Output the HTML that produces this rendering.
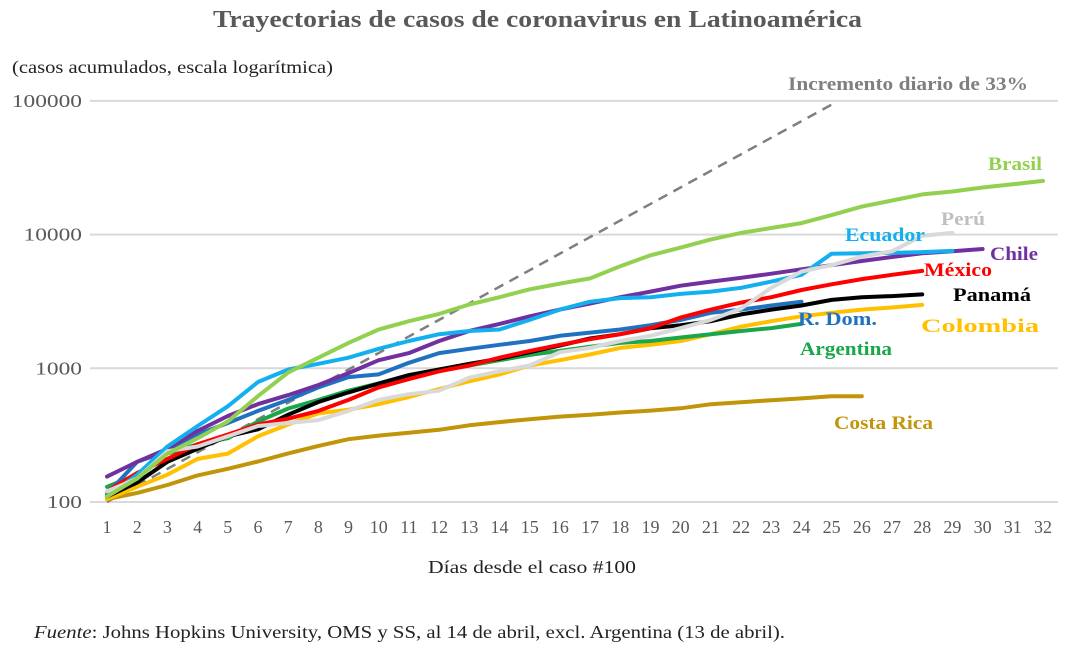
<!DOCTYPE html>
<html><head><meta charset="utf-8">
<style>
body{margin:0;background:#fff;}
svg{display:block;font-family:"Liberation Serif",serif;}
</style></head>
<body>
<svg id="chart" width="1080" height="650" viewBox="0 0 1080 650">
<text x="213" y="27" textLength="649" lengthAdjust="spacingAndGlyphs" font-size="24" font-weight="bold" fill="#595959">Trayectorias de casos de coronavirus en Latinoamérica</text>
<text x="12" y="73" textLength="321" lengthAdjust="spacingAndGlyphs" font-size="18" fill="#222">(casos acumulados, escala logarítmica)</text>
<text x="428" y="573" textLength="208" lengthAdjust="spacingAndGlyphs" font-size="18" fill="#222">Días desde el caso #100</text>
<text x="34" y="638" textLength="751" lengthAdjust="spacingAndGlyphs" font-size="18" fill="#222"><tspan font-style="italic">Fuente</tspan>: Johns Hopkins University, OMS y SS, al 14 de abril, excl. Argentina (13 de abril).</text>
<g id="grid"></g><g id="ticks"></g><g id="lines"></g><g id="labels"></g>
</svg>
<script>
const days = Array.from({length:32},(_,i)=>i+1);
const yTicks = [100,1000,10000,100000];
const brasil = [110,150,230,300,400,620,930,1200,1550,1950,2250,2550,3000,3400,3900,4300,4700,5800,7000,8000,9200,10300,11200,12200,14000,16200,18000,20000,21000,22500,23800,25200];
const ecuador = [110,160,260,370,520,790,980,1080,1200,1400,1600,1800,1900,1950,2300,2750,3150,3350,3400,3600,3750,4000,4450,5000,7200,7250,7300,7400,7550];
const chile = [155,200,250,340,440,540,630,750,920,1150,1300,1600,1900,2150,2450,2750,3050,3400,3750,4150,4450,4750,5100,5500,5900,6350,6800,7250,7500,7800];
const mexico = [120,165,210,270,320,380,420,480,580,720,830,950,1050,1200,1350,1500,1650,1800,2000,2400,2750,3100,3400,3850,4250,4650,5000,5350];
const panama = [110,140,200,250,310,350,450,560,660,770,890,980,1080,1180,1320,1480,1670,1800,1990,2100,2250,2530,2750,2950,3250,3400,3470,3570];
const rdom = [115,200,240,320,390,480,580,720,860,900,1100,1300,1400,1500,1600,1750,1850,1950,2100,2300,2600,2750,2950,3150];
const argentina = [130,160,230,270,300,400,500,580,680,770,850,980,1050,1150,1260,1350,1450,1550,1600,1700,1800,1900,2000,2150];
const colombia = [105,130,160,210,230,310,380,460,490,540,610,700,800,900,1050,1150,1270,1420,1500,1600,1800,2050,2250,2450,2600,2750,2850,2980];
const peru = [120,150,240,260,310,370,390,410,480,580,640,680,850,950,1050,1320,1420,1600,1750,2000,2300,2800,4000,5300,5900,6850,7500,9800,10300];
const costaRica = [105,117,134,158,177,201,231,263,295,314,330,347,375,396,416,435,449,467,483,502,539,558,577,595,618,618];
const refStartDay = 1, refEndDay = 25, refStartVal = 100, refGrowth = 0.33;

const NS="http://www.w3.org/2000/svg";
const X = d => 107 + (d-1)*(1043-107)/31;
const Y = v => 502 - (Math.log10(v)-2)*133.7;
function mk(tag, attrs, parent){const e=document.createElementNS(NS,tag);for(const k in attrs)e.setAttribute(k,attrs[k]);parent.appendChild(e);return e;}
const grid=document.getElementById('grid'), ticks=document.getElementById('ticks'), lines=document.getElementById('lines'), labels=document.getElementById('labels');
yTicks.forEach(v=>{
  const l=mk('line',{x1:90,x2:1058,y1:Y(v),y2:Y(v),stroke:'#d9d9d9','stroke-width':2},grid);
  
  
  const s=String(v);
  const t=mk('text',{x:82,y:Y(v)+6,'text-anchor':'end','font-size':18,fill:'#595959',textLength:s.length*11.7,lengthAdjust:'spacingAndGlyphs'},ticks);
  t.textContent=s;
  
  
});
days.forEach(d=>{
  const t=mk('text',{x:X(d),y:533,'text-anchor':'middle','font-size':18,fill:'#595959'},ticks);
  t.textContent=d;
  
  
});
const refVals=[]; for(let d=refStartDay; d<=refEndDay; d++) refVals.push(refStartVal*Math.pow(1+refGrowth,d-1));
const ref=mk('path',{d:refVals.map((v,i)=>(i?'L':'M')+X(i+1)+','+Y(v)).join(''),fill:'none',stroke:'#7f7f7f','stroke-width':2.5,'stroke-dasharray':'10 7'},lines);


const series=[
 ['costa-rica',costaRica,'#c09509'],['colombia',colombia,'#ffc000'],['argentina',argentina,'#1aa64a'],['rdom',rdom,'#1f72c0'],
 ['panama',panama,'#000'],['mexico',mexico,'#ff0000'],['chile',chile,'#7030a0'],['ecuador',ecuador,'#12b0ef'],['peru',peru,'#d9d9d9'],['brasil',brasil,'#92d050']];
series.forEach(([n,arr,c])=>{
  const p=mk('path',{d:arr.map((v,i)=>(i?'L':'M')+X(i+1).toFixed(1)+','+Y(v).toFixed(1)).join(''),fill:'none',stroke:c,'stroke-width':4,'stroke-linejoin':'round','stroke-linecap':'round'},lines);
  
  
});
const labs=[['Incremento diario de 33%',788,90,'#7f7f7f',240],['Brasil',988,170,'#92d050',54],['Perú',941,225,'#bfbfbf',44],['Ecuador',845,241,'#12b0ef',80],['Chile',990,260,'#7030a0',48],['México',924,276,'#ff0000',68],['Panamá',953,301,'#000',78],['R. Dom.',798,325,'#1f72c0',79],['Colombia',921,332,'#ffc000',118],['Argentina',800,355,'#1aa64a',92],['Costa Rica',834,429,'#c09509',99]];
labs.forEach(([t,x,y,c,w])=>{
  const e=mk('text',{x:x,y:y,'font-size':19,'font-weight':'bold',fill:c,textLength:w,lengthAdjust:'spacingAndGlyphs'},labels);
  e.textContent=t;
  
  
});
</script>
</body></html>
